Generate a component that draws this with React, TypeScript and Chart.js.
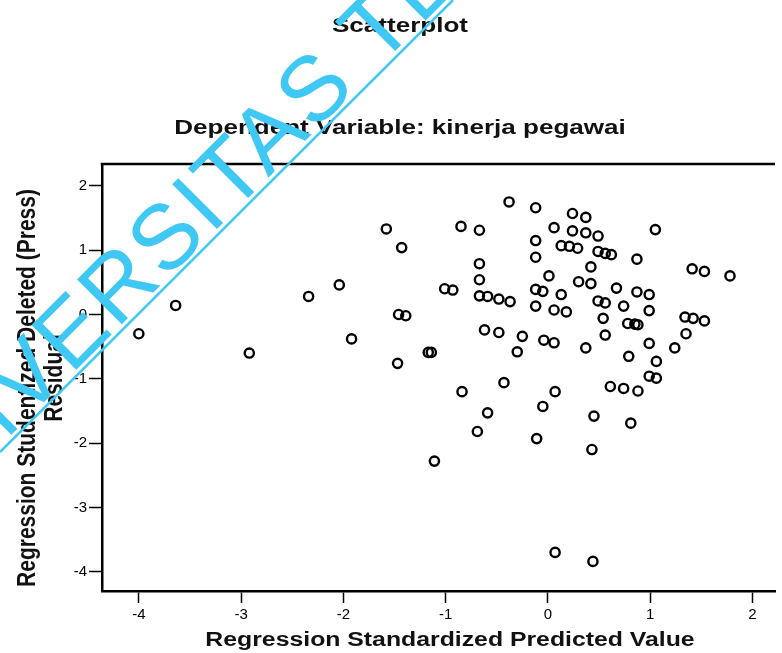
import React, { useEffect, useRef } from "react";
import { Chart, registerables } from "chart.js";

Chart.register(...registerables);

// ---- Data ----
const predictedValues = [
  -4.0, -3.64, -2.92, -2.34, -2.04, -1.92, -1.58, -1.47, -1.46, -1.43,
  -1.39, -1.17, -1.14, -1.11, -1.01, -0.93, -0.85, -0.84, -0.69, -0.67,
  -0.67, -0.67, -0.67, -0.59, -0.59, -0.62, -0.48, -0.48, -0.43, -0.38,
  -0.37, -0.3, -0.25, -0.12, -0.12, -0.12, -0.12, -0.12, -0.11, -0.05,
  -0.05, -0.04, 0.01, 0.06, 0.06, 0.06, 0.07, 0.07, 0.13, 0.13,
  0.18, 0.21, 0.24, 0.24, 0.29, 0.3, 0.37, 0.37, 0.37, 0.42,
  0.42, 0.43, 0.44, 0.45, 0.49, 0.49, 0.49, 0.54, 0.56, 0.56,
  0.56, 0.61, 0.62, 0.67, 0.74, 0.74, 0.78, 0.79, 0.81, 0.85,
  0.87, 0.87, 0.88, 0.88, 0.99, 0.99, 0.99, 0.99, 1.05, 1.06,
  1.06, 1.24, 1.34, 1.35, 1.41, 1.42, 1.53, 1.53, 1.78,
];
const residualValues = [
  -0.3, 0.14, -0.6, 0.28, 0.46, -0.38, 1.33, -0.76, 0.0, 1.04,
  -0.02, -0.59, -0.59, -2.28, 0.4, 0.38, 1.37, -1.2, -1.82, 1.31,
  0.79, 0.54, 0.29, 0.28, -1.53, -0.24, 0.24, -0.28, -1.06, 1.75,
  0.2, -0.58, -0.34, 1.66, 1.15, 0.89, 0.39, 0.13, -1.93, 0.36,
  -1.43, -0.4, 0.6, 1.35, 0.07, -0.44, -1.2, -3.7, 1.07, 0.31,
  0.04, 1.06, 1.57, 1.3, 1.03, 0.51, 1.27, 1.51, -0.52, 0.74,
  0.48, -2.1, -3.84, -1.58, 1.22, 0.98, 0.21, -0.06, 0.95, -0.32,
  0.18, -1.12, 0.93, 0.41, 0.13, -1.15, -0.14, -0.65, -1.69, -0.15,
  0.86, 0.35, -1.19, -0.16, 0.31, 0.06, -0.45, -0.96, 1.32, -0.73,
  -0.99, -0.52, -0.04, -0.3, 0.71, -0.06, 0.67, -0.1, 0.6,
];
const xTickValues = [-4, -3, -2, -1, 0, 1, 2];
const yTickValues = [2, 1, 0, -1, -2, -3, -4];
const xRange = [-4.36, 2.22];
const yRange = [-4.3, 2.34];

const chartTitle = "Scatterplot";
const chartSubtitle = "Dependent Variable: kinerja pegawai";
const xAxisTitle = "Regression Standardized Predicted Value";
const yAxisTitleLines = ["Regression Studentized Deleted (Press)", "Residual"];
const watermarkText = "UNIVERSITAS TE";

const FONT = '"Liberation Sans", Arial, Helvetica, sans-serif';
const STRETCH = 1.24;

const textStyle = (x: number, y: number, size: number, rotate = false): React.CSSProperties => ({
  position: "absolute",
  left: x,
  top: y,
  fontFamily: FONT,
  fontWeight: "bold",
  fontSize: size,
  lineHeight: 1,
  whiteSpace: "nowrap",
  color: "#111",
  transform: rotate
    ? `translate(-50%, -50%) rotate(-90deg) scaleY(${STRETCH})`
    : `translate(-50%, -50%) scaleX(${STRETCH})`,
});

export default function App() {
  const canvasRef = useRef<HTMLCanvasElement | null>(null);

  useEffect(() => {
    if (!canvasRef.current) return;
    const topFrame = {
      id: "topFrame",
      afterDraw(chart: any) {
        const { ctx, chartArea } = chart;
        ctx.save();
        ctx.strokeStyle = "#000";
        ctx.lineWidth = 2.5;
        ctx.beginPath();
        ctx.moveTo(chartArea.left - 1.25, chartArea.top);
        ctx.lineTo(chartArea.right, chartArea.top);
        ctx.stroke();
        ctx.restore();
      },
    };
    const tickFont = { family: FONT, size: 15 };
    const chart = new Chart(canvasRef.current, {
      type: "scatter",
      data: {
        datasets: [
          {
            data: predictedValues.map((x, i) => ({ x, y: residualValues[i] })),
            pointStyle: "circle",
            pointRadius: 4.6,
            pointBorderWidth: 2.4,
            pointBorderColor: "#000",
            pointBackgroundColor: "rgba(0,0,0,0)",
            showLine: false,
          },
        ],
      },
      options: {
        animation: false,
        responsive: false,
        layout: { padding: { top: 164, left: 0, right: 0, bottom: 0 } },
        plugins: { legend: { display: false }, tooltip: { enabled: false }, title: { display: false } },
        scales: {
          x: {
            type: "linear",
            min: xRange[0],
            max: xRange[1],
            afterBuildTicks: (s: any) => {
              s.ticks = xTickValues.map((v) => ({ value: v }));
            },
            afterFit: (s: any) => {
              s.height = 62;
            },
            grid: { drawOnChartArea: false, drawTicks: true, tickLength: 12, tickColor: "#000", tickWidth: 1.5 },
            border: { display: true, color: "#000", width: 2.5 },
            ticks: { color: "#000", font: tickFont, padding: 3, maxRotation: 0, autoSkip: false, callback: (v: any) => String(v) },
          },
          y: {
            type: "linear",
            min: yRange[0],
            max: yRange[1],
            afterBuildTicks: (s: any) => {
              s.ticks = yTickValues.map((v) => ({ value: v }));
            },
            afterFit: (s: any) => {
              s.width = 102;
            },
            grid: { drawOnChartArea: false, drawTicks: true, tickLength: 13, tickColor: "#000", tickWidth: 1.5 },
            border: { display: true, color: "#000", width: 2.5 },
            ticks: { color: "#000", font: tickFont, padding: 2, autoSkip: false, callback: (v: any) => String(v) },
          },
        },
      } as any,
      plugins: [topFrame],
    });
    return () => chart.destroy();
  }, []);

  return (
    <div
      style={{
        position: "fixed",
        left: 0,
        top: 0,
        width: 782,
        height: 653,
        overflow: "hidden",
        background: "#fff",
      }}
    >
      <canvas ref={canvasRef} width={782} height={653} style={{ position: "absolute", left: 0, top: 0 }} />
      <div style={textStyle(400, 24, 21)}>{chartTitle}</div>
      <div style={textStyle(400, 126, 21)}>{chartSubtitle}</div>
      <div style={textStyle(450, 639, 20)}>{xAxisTitle}</div>
      <div style={textStyle(26, 388, 21, true)}>{yAxisTitleLines[0]}</div>
      <div style={textStyle(53, 378, 21, true)}>{yAxisTitleLines[1]}</div>
      <svg
        width={782}
        height={653}
        style={{ position: "absolute", left: 0, top: 0, pointerEvents: "none" }}
      >
        <text
          transform="translate(-93,539) rotate(-45)"
          fontFamily={FONT}
          fontSize={92}
          letterSpacing={3}
          fill="#3fc8f4"
        >
          {watermarkText}
        </text>
        <line x1={0} y1={452} x2={453} y2={0} stroke="#3fc8f4" strokeWidth={2.5} />
      </svg>
    </div>
  );
}
